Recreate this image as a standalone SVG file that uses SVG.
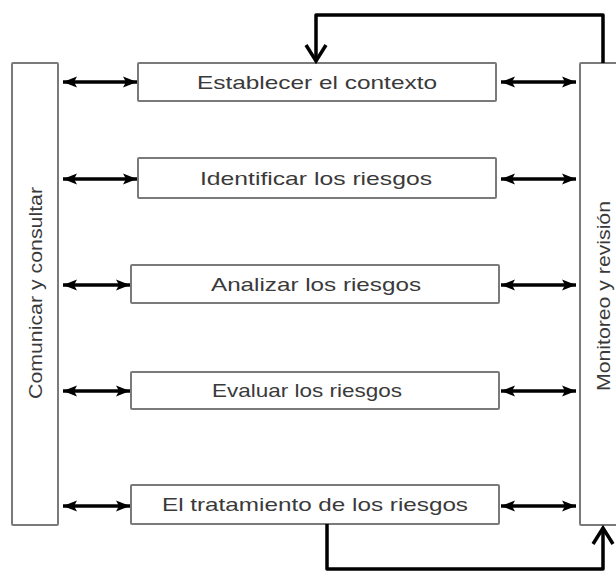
<svg xmlns="http://www.w3.org/2000/svg" width="616" height="572" viewBox="0 0 616 572">
<defs>
<style>
.box{fill:#fff;stroke:#7a7a7a;stroke-width:2}
.lbl{font-family:"Liberation Sans",Arial,sans-serif;font-size:19px;fill:#3a3a3a;text-anchor:middle}
.dbl{stroke:#000;stroke-width:3.5;fill:none;marker-start:url(#ah);marker-end:url(#ah)}
.loop{stroke:#000;stroke-width:3.5;fill:none;stroke-linejoin:round}
</style>
<marker id="ah" markerUnits="userSpaceOnUse" markerWidth="16" markerHeight="14" refX="14" refY="7" orient="auto-start-reverse">
<path d="M0,1.5 L14,7 L0,12.5 L3,7 Z" fill="#000"/>
</marker>
<marker id="chev" markerUnits="userSpaceOnUse" markerWidth="24" markerHeight="24" refX="20" refY="12" orient="auto">
<path d="M4,2 L20,12 L4,22" fill="none" stroke="#000" stroke-width="3.5"/>
</marker>
</defs>
<rect width="616" height="572" fill="#fff"/>
<g id="comunicar">
<rect class="box" x="12" y="63" width="46" height="462" rx="1"/>
<text class="lbl" transform="translate(42,293) rotate(-90)" textLength="212" lengthAdjust="spacingAndGlyphs">Comunicar y consultar</text>
</g>
<g id="monitoreo">
<rect class="box" x="580" y="63" width="46" height="462" rx="1"/>
<text class="lbl" transform="translate(610,296) rotate(-90)" textLength="190" lengthAdjust="spacingAndGlyphs">Monitoreo y revisión</text>
</g>
<g id="establecer">
<rect class="box" x="138" y="63" width="358" height="38" rx="1"/>
<text class="lbl" x="317" y="89" textLength="240" lengthAdjust="spacingAndGlyphs">Establecer el contexto</text>
</g>
<g id="identificar">
<rect class="box" x="138" y="158" width="358" height="40" rx="1"/>
<text class="lbl" x="316" y="185" textLength="232" lengthAdjust="spacingAndGlyphs">Identificar los riesgos</text>
</g>
<g id="analizar">
<rect class="box" x="131" y="265" width="368" height="38" rx="1"/>
<text class="lbl" x="316" y="291" textLength="210" lengthAdjust="spacingAndGlyphs">Analizar los riesgos</text>
</g>
<g id="evaluar">
<rect class="box" x="131" y="372" width="368" height="37" rx="1"/>
<text class="lbl" x="307" y="397" textLength="190" lengthAdjust="spacingAndGlyphs">Evaluar los riesgos</text>
</g>
<g id="tratamiento">
<rect class="box" x="131" y="485" width="368" height="39" rx="1"/>
<text class="lbl" x="315" y="511" textLength="306" lengthAdjust="spacingAndGlyphs">El tratamiento de los riesgos</text>
</g>
<g id="connectors">
<line class="dbl" x1="63" y1="82" x2="137" y2="82"/>
<line class="dbl" x1="63" y1="179" x2="137" y2="179"/>
<line class="dbl" x1="63" y1="285" x2="130" y2="285"/>
<line class="dbl" x1="63" y1="391" x2="130" y2="391"/>
<line class="dbl" x1="63" y1="506" x2="130" y2="506"/>
<line class="dbl" x1="501" y1="82" x2="576" y2="82"/>
<line class="dbl" x1="501" y1="179" x2="576" y2="179"/>
<line class="dbl" x1="501" y1="285" x2="576" y2="285"/>
<line class="dbl" x1="501" y1="391" x2="576" y2="391"/>
<line class="dbl" x1="501" y1="506" x2="576" y2="506"/>
<path class="loop" d="M603,63 L603,15 L316,15 L316,61" marker-end="url(#chev)"/>
<path class="loop" d="M327,524 L327,569 L603,569 L603,528" marker-end="url(#chev)"/>
</g>
</svg>
